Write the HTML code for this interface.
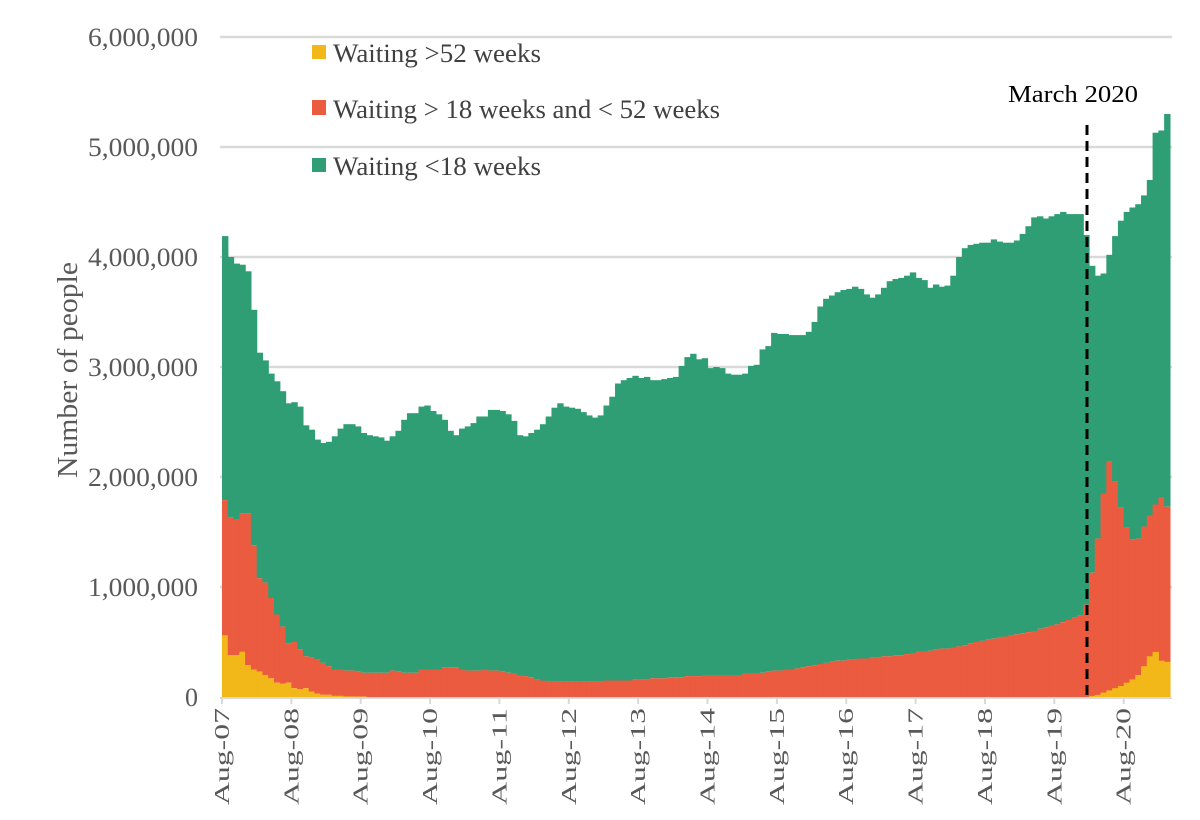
<!DOCTYPE html>
<html><head><meta charset="utf-8"><style>
html,body{margin:0;padding:0;background:#fff;}
svg{display:block;font-family:"Liberation Serif",serif;}
</style></head><body>
<svg id="chart" width="1200" height="820" viewBox="0 0 1200 820" xmlns="http://www.w3.org/2000/svg">
<g id="grid"></g>
<g id="bars"></g>
<g id="xaxis"></g>
<g id="yaxis"></g>
<text transform="translate(77,370) rotate(-90)" text-anchor="middle" font-size="28" textLength="216" lengthAdjust="spacingAndGlyphs" fill="#595959">Number of people</text>
<g>
<g><rect x="312" y="45" width="14" height="14" fill="#f2b718"/><text x="333" y="62" font-size="26" textLength="208" lengthAdjust="spacingAndGlyphs" fill="#404040">Waiting &gt;52 weeks</text></g>
<g><rect x="312" y="100" width="14" height="15" fill="#eb5b3f"/><text x="333" y="118" font-size="26" textLength="387" lengthAdjust="spacingAndGlyphs" fill="#404040">Waiting &gt; 18 weeks and &lt; 52 weeks</text></g>
<g><rect x="312" y="158" width="14" height="14" fill="#2f9e74"/><text x="333" y="175" font-size="26" textLength="208" lengthAdjust="spacingAndGlyphs" fill="#404040">Waiting &lt;18 weeks</text></g>
</g>
<line x1="1087" y1="125" x2="1087" y2="695" stroke="#000" stroke-width="3" stroke-dasharray="10,6"/>
<text x="1008" y="102" font-size="24" textLength="130" lengthAdjust="spacingAndGlyphs" fill="#000">March 2020</text>
</svg>
<script>
// values in millions; index 0 = Aug-07, monthly
const totalValues = [4.19,4.00,3.94,3.93,3.87,3.52,3.13,3.06,2.94,2.87,2.78,2.67,2.68,2.64,2.47,2.43,2.34,2.31,2.32,2.37,2.44,2.48,2.48,2.46,2.40,2.38,2.37,2.36,2.33,2.37,2.42,2.52,2.58,2.58,2.64,2.65,2.60,2.57,2.52,2.42,2.38,2.44,2.46,2.49,2.55,2.55,2.61,2.61,2.60,2.57,2.51,
2.38,2.37,2.40,2.43,2.48,2.55,2.63,2.67,2.64,2.63,2.62,2.59,2.56,2.54,2.56,2.65,2.73,2.85,2.88,2.90,2.92,2.90,2.91,2.88,2.88,2.89,2.90,2.91,3.01,3.09,3.12,3.07,3.08,2.99,3.00,2.99,2.94,2.93,2.93,2.94,3.01,3.02,3.16,3.19,3.31,3.30,3.30,3.29,3.29,3.29,3.32,
3.41,3.55,3.62,3.65,3.68,
3.70,3.71,3.73,3.71,3.66,3.63,3.66,3.72,3.78,3.80,3.81,3.83,3.86,3.81,3.79,3.72,3.75,3.73,3.74,3.83,4.00,4.08,4.11,4.12,4.13,4.13,4.16,4.14,4.13,4.13,4.15,4.21,4.28,4.36,4.37,4.35,4.37,4.39,4.41,4.39,4.39,4.39,
4.20,3.92,3.83,3.85,4.02,4.19,4.33,4.41,4.45,4.48,4.56,4.70,5.13,5.15,5.30];
const over18Values = [1.79,1.63,1.61,1.67,1.67,1.38,1.08,1.04,0.90,0.75,0.64,0.49,0.50,0.43,0.37,0.36,0.34,0.31,0.28,0.25,0.25,0.24,0.24,0.23,0.22,0.22,0.22,0.22,0.22,0.24,0.23,0.22,0.22,0.22,0.25,0.25,0.25,0.25,0.27,0.27,0.27,0.25,0.24,0.24,0.24,0.25,0.24,0.24,0.23,0.22,0.21,
0.20,0.19,0.18,0.16,0.15,0.14,0.14,0.14,0.14,0.14,0.14,0.14,0.14,0.14,0.14,0.15,0.15,0.15,0.15,0.15,0.16,0.16,0.16,0.17,0.17,0.17,0.18,0.18,0.18,0.19,0.19,0.19,0.20,0.20,0.20,0.20,0.20,0.20,0.20,0.21,0.21,0.21,0.22,0.23,0.24,0.24,0.25,0.25,0.26,0.27,0.28,
0.29,0.30,0.31,0.32,0.33,
0.33,0.34,0.34,0.35,0.35,0.36,0.36,0.37,0.37,0.38,0.38,0.39,0.40,0.41,0.41,0.42,0.43,0.44,0.44,0.45,0.46,0.47,0.49,0.50,0.51,0.52,0.53,0.54,0.55,0.56,0.57,0.58,0.59,0.60,0.62,0.63,0.65,0.66,0.68,0.70,0.72,0.745,
0.84,1.13,1.44,1.85,2.14,1.96,1.72,1.54,1.43,1.44,1.55,1.65,1.75,1.81,1.73];
const over52Values = [0.56,0.38,0.38,0.41,0.29,0.25,0.23,0.20,0.17,0.13,0.12,0.13,0.08,0.07,0.08,0.05,0.03,0.02,0.02,0.01,0.01,0.005,0.005,0.003,0.003];
const over52Tail = [0,0.01,0.02,0.04,0.06,0.08,0.10,0.13,0.16,0.20,0.28,0.37,0.41,0.33,0.32];
const tickLabels = ["Aug-07","Aug-08","Aug-09","Aug-10","Aug-11","Aug-12","Aug-13","Aug-14","Aug-15","Aug-16","Aug-17","Aug-18","Aug-19","Aug-20"];
const yTicks = [0,1,2,3,4,5,6];
const yTickLabels = ["0","1,000,000","2,000,000","3,000,000","4,000,000","5,000,000","6,000,000"];

const NS="http://www.w3.org/2000/svg";
const X0=222, BW=5.78, Y0=697, PPM=110;
const xs=i=>X0+i*BW;
const ys=v=>Y0-v*PPM;
function mk(tag,attrs,parent){const e=document.createElementNS(NS,tag);for(const k in attrs)e.setAttribute(k,attrs[k]);parent.appendChild(e);return e;}
const grid=document.getElementById('grid'), bars=document.getElementById('bars'), xa=document.getElementById('xaxis'), ya=document.getElementById('yaxis');
yTicks.forEach((t,k)=>{
  if(t>0){const l=mk('line',{x1:220,x2:1172,y1:ys(t),y2:ys(t),stroke:'#d9d9d9','stroke-width':2.5},grid);
  
  }
  const lab=yTickLabels[k];
  const attrs={x:198,y:ys(t)+9,'text-anchor':'end','font-size':26,fill:'#595959'};
  if(lab.length>1){attrs.textLength=110;attrs.lengthAdjust='spacingAndGlyphs';}
  const tx=mk('text',attrs,ya);
  
  
  tx.textContent=lab;
});
totalValues.forEach((tot,i)=>{
  const r18=over18Values[i]||0, r52=over52Values[i]||0;
  const g=mk('rect',{x:xs(i),width:BW+0.6,y:ys(tot),height:ys(r18)-ys(tot),fill:'#2f9e74'},bars);
  
  
  const r=mk('rect',{x:xs(i),width:BW+0.6,y:ys(r18),height:ys(r52)-ys(r18),fill:'#eb5b3f'},bars);
  
  
  if(r52>0){const y=mk('rect',{x:xs(i),width:BW+0.6,y:ys(r52),height:Y0-ys(r52),fill:'#f2b718'},bars);
  
  }
});
over52Tail.forEach((v,k)=>{const i=149+k;if(v<=0)return;
  const y=mk('rect',{x:xs(i),width:BW+0.6,y:ys(v),height:Y0-ys(v),fill:'#f2b718'},bars);
  
  
});
const ax=mk('line',{x1:220,x2:1172,y1:Y0+1,y2:Y0+1,stroke:'#d9d9d9','stroke-width':2},xa);


tickLabels.forEach((lab,k)=>{
  const x=xs(k*12);
  const t=mk('line',{x1:x,x2:x,y1:Y0,y2:Y0+7,stroke:'#d9d9d9','stroke-width':2},xa);
  
  
  const tx=mk('text',{x:x+7,y:708,'text-anchor':'end','font-size':21,textLength:97,lengthAdjust:'spacingAndGlyphs',fill:'#595959',transform:`rotate(-90 ${x+7} 708)`},xa);
  
  
  tx.textContent=lab;
});
</script>
</body></html>
